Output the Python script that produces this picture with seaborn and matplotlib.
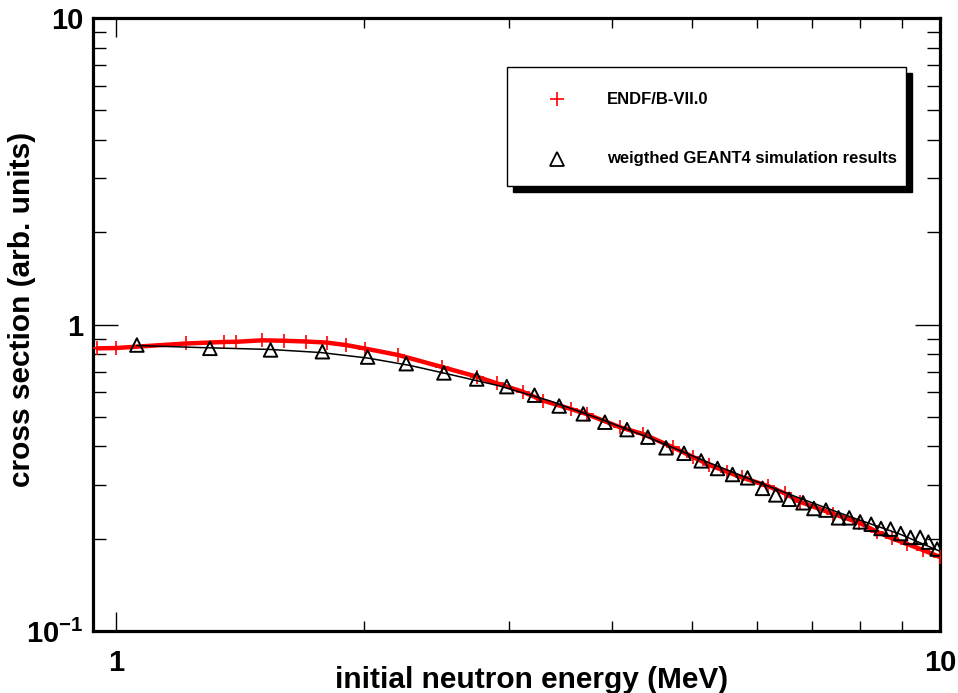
import numpy as np
import pandas as pd
import matplotlib
matplotlib.use("Agg")
import matplotlib.pyplot as plt
from matplotlib.patches import Rectangle
from matplotlib.ticker import FixedLocator, NullFormatter
import seaborn as sns

# ---- data ----
endf_energy = [0.949, 1.00, 1.216, 1.352, 1.398, 1.504, 1.600, 1.701, 1.802, 1.901,
               2.005, 2.201, 2.485, 2.740, 2.897, 3.114, 3.301, 3.566, 3.727, 4.090,
               4.364, 4.746, 5.011, 5.248, 5.510, 5.746, 6.187, 6.485, 6.763, 7.421,
               7.981, 8.379, 8.738, 9.127, 9.528, 10.0]
endf_xs = [0.836, 0.838, 0.867, 0.877, 0.878, 0.888, 0.885, 0.880, 0.873, 0.857,
           0.835, 0.795, 0.727, 0.676, 0.643, 0.604, 0.564, 0.530, 0.510, 0.462,
           0.439, 0.397, 0.370, 0.348, 0.331, 0.317, 0.297, 0.281, 0.264, 0.241,
           0.2256, 0.2109, 0.2006, 0.1922, 0.1838, 0.1743]

g4_energy = [1.06, 1.30, 1.54, 1.78, 2.02, 2.25, 2.50, 2.74, 2.98, 3.22,
             3.45, 3.69, 3.92, 4.17, 4.42, 4.65, 4.89, 5.13, 5.37, 5.60,
             5.84, 6.09, 6.32, 6.56, 6.82, 7.03, 7.27, 7.53, 7.76, 8.00,
             8.25, 8.48, 8.71, 8.96, 9.21, 9.46, 9.68, 9.92]
g4_xs = [0.857, 0.836, 0.826, 0.815, 0.783, 0.745, 0.695, 0.664, 0.627, 0.588,
         0.542, 0.511, 0.480, 0.454, 0.429, 0.396, 0.380, 0.359, 0.339, 0.324,
         0.316, 0.292, 0.278, 0.269, 0.262, 0.251, 0.248, 0.234, 0.234, 0.227,
         0.223, 0.216, 0.215, 0.208, 0.202, 0.202, 0.195, 0.185]

fit_energy = [1.060, 1.265, 1.538, 1.773, 2.022, 2.275, 2.543, 2.924, 3.363, 3.868,
              4.447, 5.114, 5.881, 6.763, 7.777, 8.943, 10.0]
fit_xs = [0.854, 0.841, 0.829, 0.810, 0.777, 0.735, 0.687, 0.630, 0.563, 0.492,
          0.426, 0.364, 0.313, 0.271, 0.236, 0.207, 0.182]

legend_labels = ["ENDF/B-VII.0", "weigthed GEANT4 simulation results"]
x_ticks = [1, 10]
x_ticklabels = ["1", "10"]
y_ticks = [0.1, 1, 10]
y_ticklabels = ["$10^{\\mathsf{-1}}$", "1", "10"]

df_endf = pd.DataFrame({"E": endf_energy, "xs": endf_xs})
df_g4 = pd.DataFrame({"E": g4_energy, "xs": g4_xs})
df_fit = pd.DataFrame({"E": fit_energy, "xs": fit_xs})

# ---- style ----
sns.set_style("ticks")
plt.rcParams["font.family"] = ["Liberation Sans", "DejaVu Sans"]
plt.rcParams["font.weight"] = "bold"
plt.rcParams["text.color"] = "black"
plt.rcParams["axes.labelcolor"] = "black"
plt.rcParams["xtick.color"] = "black"
plt.rcParams["ytick.color"] = "black"
plt.rcParams["mathtext.fontset"] = "custom"
plt.rcParams["mathtext.rm"] = "Liberation Sans:bold"
plt.rcParams["mathtext.it"] = "Liberation Sans:bold"
plt.rcParams["mathtext.bf"] = "Liberation Sans:bold"
plt.rcParams["mathtext.sf"] = "Liberation Sans:bold"
plt.rcParams["mathtext.default"] = "rm"

W, H = 958, 693
fig = plt.figure(figsize=(W / 100, H / 100), dpi=100)
fig.patch.set_facecolor("white")
L, R, T, B = 93, 940, 18, 631
ax = fig.add_axes([L / W, 1 - B / H, (R - L) / W, (B - T) / H])
ax.set_facecolor("white")

# ENDF curve + markers
sns.lineplot(data=df_endf, x="E", y="xs", ax=ax, color="#ff0000", linewidth=3.2,
             estimator=None, sort=False, zorder=2)
sns.scatterplot(data=df_endf, x="E", y="xs", ax=ax, marker="+", color="#ff0000",
                s=110, linewidth=1.2, zorder=3)
# GEANT4 fit line + triangles
sns.lineplot(data=df_fit, x="E", y="xs", ax=ax, color="black", linewidth=1.1,
             estimator=None, sort=False, zorder=4)
sns.scatterplot(data=df_g4, x="E", y="xs", ax=ax, marker="^", facecolor="none",
                edgecolor="black", color="black", s=95, linewidth=1.4, zorder=5)

ax.set_xscale("log")
ax.set_yscale("log")
ax.set_xlim(0.9377, 10)
ax.set_ylim(0.1, 10)

ax.xaxis.set_major_locator(FixedLocator(x_ticks))
ax.set_xticklabels(x_ticklabels)
ax.xaxis.set_minor_locator(FixedLocator([2, 3, 4, 5, 6, 7, 8, 9]))
ax.xaxis.set_minor_formatter(NullFormatter())
ax.yaxis.set_major_locator(FixedLocator(y_ticks))
ax.set_yticklabels(y_ticklabels)
ax.yaxis.set_minor_locator(FixedLocator([0.2, 0.3, 0.4, 0.5, 0.6, 0.7, 0.8, 0.9,
                                         2, 3, 4, 5, 6, 7, 8, 9]))
ax.yaxis.set_minor_formatter(NullFormatter())

ax.tick_params(axis="x", which="major", direction="in", length=13.5, width=1.0,
               top=True, bottom=True, labelsize=21, pad=13, colors="black")
ax.tick_params(axis="x", which="minor", direction="in", length=7, width=1.0,
               top=True, bottom=True)
ax.tick_params(axis="y", which="major", direction="in", length=18, width=1.0,
               left=True, right=True, labelsize=21, pad=7, colors="black")
ax.tick_params(axis="y", which="minor", direction="in", length=9.5, width=1.0,
               left=True, right=True)
for lab in ax.get_xticklabels() + ax.get_yticklabels():
    lab.set_fontweight("bold")

for sp in ax.spines.values():
    sp.set_linewidth(2.3)
    sp.set_color("black")
    sp.set_visible(True)

ax.set_xlabel("initial neutron energy (MeV)", fontsize=21.5, fontweight="bold",
              color="black")
ax.set_ylabel("cross section (arb. units)", fontsize=21.5, fontweight="bold",
              color="black")
ax.xaxis.set_label_coords((532 - L) / (R - L), (B - 680) / (B - T))
ax.xaxis.label.set_va("center")
ax.yaxis.set_label_coords((22 - L) / (R - L), (B - 309) / (B - T))
ax.yaxis.label.set_va("center")

# ---- legend box (ROOT style with shadow) ----
bx0, by0, bx1, by1 = 507, 67, 906, 186
sh = 6
fig.patches.append(Rectangle(((bx0 + sh) / W, 1 - (by1 + sh) / H), (bx1 - bx0) / W,
                             (by1 - by0) / H, transform=fig.transFigure,
                             facecolor="black", edgecolor="black", zorder=10))
fig.patches.append(Rectangle((bx0 / W, 1 - by1 / H), (bx1 - bx0) / W, (by1 - by0) / H,
                             transform=fig.transFigure, facecolor="white",
                             edgecolor="black", linewidth=1.0, zorder=11))
lx = 557 / W
ly1 = 1 - 99 / H
ly2 = 1 - 159 / H
fig.lines.append(plt.Line2D([lx], [ly1], marker="+", color="#ff0000", markersize=10.5,
                            markeredgewidth=1.2, linestyle="", transform=fig.transFigure,
                            zorder=12))
fig.lines.append(plt.Line2D([lx], [ly2], marker="^", markerfacecolor="none",
                            markeredgecolor="black", markersize=9.5, markeredgewidth=1.3,
                            linestyle="", transform=fig.transFigure, zorder=12))
fig.text(607 / W, ly1, legend_labels[0], fontsize=12, fontweight="bold",
         va="center", ha="left", zorder=12, color="black")
fig.text(607 / W, ly2, legend_labels[1], fontsize=12, fontweight="bold",
         va="center", ha="left", zorder=12, color="black")

fig.savefig("out.png", dpi=100, facecolor="white")
